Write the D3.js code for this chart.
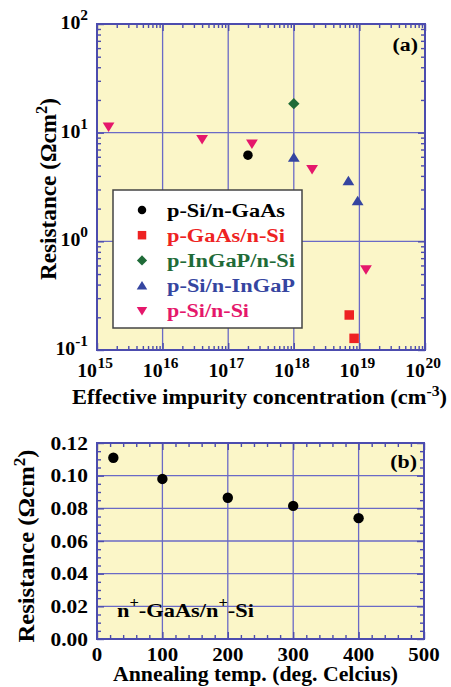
<!DOCTYPE html>
<html>
<head>
<meta charset="utf-8">
<script src="https://cdn.jsdelivr.net/npm/d3@7"></script>
<style>
  body { margin: 0; background: #fff; }
</style>
</head>
<body>
<div id="chart"></div>
<script>
// ---- panel (a) data: resistance vs effective impurity concentration ----
const seriesNames = ["p-Si/n-GaAs", "p-GaAs/n-Si", "p-InGaP/n-Si", "p-Si/n-InGaP", "p-Si/n-Si"];
const seriesShapes = ["circle", "square", "diamond", "up", "down"];
const seriesColors = ["#000000", "#ee2222", "#1f6b38", "#3545a0", "#e5176b"];
const pSiNGaAsX = [2.0e17];
const pSiNGaAsY = [6.2];
const pGaAsNSiX = [7.0e18, 8.3e18];
const pGaAsNSiY = [0.21, 0.128];
const pInGaPNSiX = [1.0e18];
const pInGaPNSiY = [18.5];
const pSiNInGaPX = [1.0e18, 6.8e18, 9.4e18];
const pSiNInGaPY = [5.9, 3.6, 2.35];
const pSiNSiX = [1.5e15, 4.0e16, 2.3e17, 1.9e18, 1.26e19];
const pSiNSiY = [11.3, 8.7, 7.9, 4.6, 0.55];
const aXExponents = [15, 16, 17, 18, 19, 20];
const aYExponents = [-1, 0, 1, 2];

// ---- panel (b) data: resistance vs annealing temperature ----
const annealTemp = [25, 100, 200, 300, 400];
const annealRes = [0.111, 0.098, 0.0865, 0.0815, 0.074];
const bXTicks = [0, 100, 200, 300, 400, 500];
const bYTicks = [0, 0.02, 0.04, 0.06, 0.08, 0.10, 0.12];

const W = 451, H = 687;
const frameBlue = "#4c4cae", gridBlue = "#6a6ac6", plotBg = "#fbf6c8";

const svg = d3.select("#chart").append("svg").attr("width", W).attr("height", H);

function shapePath(type, s) {
  const p = d3.path();
  if (type === "circle") { p.arc(0, 0, s / 2, 0, 2 * Math.PI); }
  else if (type === "square") { p.rect(-s / 2, -s / 2, s, s); }
  else if (type === "diamond") {
    p.moveTo(0, -s * 0.6); p.lineTo(s * 0.6, 0); p.lineTo(0, s * 0.6); p.lineTo(-s * 0.6, 0); p.closePath();
  } else if (type === "up") {
    p.moveTo(0, -s * 0.55); p.lineTo(s * 0.62, s * 0.45); p.lineTo(-s * 0.62, s * 0.45); p.closePath();
  } else {
    p.moveTo(0, s * 0.55); p.lineTo(s * 0.62, -s * 0.45); p.lineTo(-s * 0.62, -s * 0.45); p.closePath();
  }
  return p.toString();
}

// ticks on all four sides, pointing in
function drawTicks(g, xs, ys, xMajor, xMinor, yMajor, yMinor) {
  const [xa, xb] = xs.range();
  const [ya, yb] = ys.range();
  const sides = [
    [d3.axisBottom(xs), `translate(0,${ya})`, true],
    [d3.axisTop(xs), `translate(0,${yb})`, true],
    [d3.axisLeft(ys), `translate(${xa},0)`, false],
    [d3.axisRight(ys), `translate(${xb},0)`, false]
  ];
  sides.forEach(([axis, tr, horiz]) => {
    [[horiz ? xMajor : yMajor, 7], [horiz ? xMinor : yMinor, 4]].forEach(([vals, len]) => {
      g.append("g").attr("transform", tr)
        .call(axis.tickValues(vals).tickSize(-len).tickFormat(""))
        .call(s => s.select(".domain").remove())
        .selectAll("line").attr("stroke", frameBlue).attr("stroke-width", 1.4);
    });
  });
}

function plotBox(g, xs, ys, xGrid, yGrid) {
  const [xa, xb] = xs.range();
  const [ya, yb] = ys.range();
  g.append("rect").attr("x", xa).attr("y", yb).attr("width", xb - xa).attr("height", ya - yb)
    .attr("fill", plotBg);
  g.selectAll(".vgrid").data(xGrid).enter().append("line")
    .attr("x1", d => xs(d)).attr("x2", d => xs(d)).attr("y1", ya).attr("y2", yb)
    .attr("stroke", gridBlue).attr("stroke-width", 1.3);
  g.selectAll(".hgrid").data(yGrid).enter().append("line")
    .attr("y1", d => ys(d)).attr("y2", d => ys(d)).attr("x1", xa).attr("x2", xb)
    .attr("stroke", gridBlue).attr("stroke-width", 1.3);
}

function frame(g, xs, ys) {
  const [xa, xb] = xs.range();
  const [ya, yb] = ys.range();
  g.append("rect").attr("x", xa).attr("y", yb).attr("width", xb - xa).attr("height", ya - yb)
    .attr("fill", "none").attr("stroke", frameBlue).attr("stroke-width", 2);
}

// text with horizontal stretch
function stext(g, x, y, str, size, sx, anchor) {
  return g.append("text").attr("transform", `translate(${x},${y}) scale(${sx},1)`)
    .attr("text-anchor", anchor || "start").attr("font-size", size).text(str);
}

// ================= panel (a) =================
const ga = svg.append("g");
const ax = d3.scaleLog().domain([1e15, 1e20]).range([97, 425]);
const ay = d3.scaleLog().domain([0.1, 100]).range([350, 24]);

const aXMajor = aXExponents.map(e => Math.pow(10, e));
const aYMajor = aYExponents.map(e => Math.pow(10, e));
const aXMinor = [], aYMinor = [];
aXExponents.slice(0, -1).forEach(e => { for (let k = 2; k < 10; k++) aXMinor.push(k * Math.pow(10, e)); });
aYExponents.slice(0, -1).forEach(e => { for (let k = 2; k < 10; k++) aYMinor.push(k * Math.pow(10, e)); });

plotBox(ga, ax, ay, aXMajor.slice(1, -1), aYMajor.slice(1, -1));
drawTicks(ga, ax, ay, aXMajor, aXMinor, aYMajor, aYMinor);
frame(ga, ax, ay);

const seriesX = [pSiNGaAsX, pGaAsNSiX, pInGaPNSiX, pSiNInGaPX, pSiNSiX];
const seriesY = [pSiNGaAsY, pGaAsNSiY, pInGaPNSiY, pSiNInGaPY, pSiNSiY];
seriesNames.forEach((name, i) => {
  const pts = seriesX[i].map((x, j) => ({ x: x, y: seriesY[i][j] }));
  ga.selectAll(".s" + i).data(pts).enter().append("path")
    .attr("transform", d => `translate(${ax(d.x)},${ay(d.y)})`)
    .attr("d", shapePath(seriesShapes[i], 9.5))
    .attr("fill", seriesColors[i]);
});

// legend
const leg = ga.append("g");
leg.append("rect").attr("x", 113).attr("y", 190).attr("width", 189).attr("height", 138)
  .attr("fill", "#fff").attr("stroke", "#444").attr("stroke-width", 1.5);
const legWidths = [118, 118, 128, 128, 82];
seriesNames.forEach((name, i) => {
  leg.append("path").attr("transform", `translate(142,${210 + i * 25.2})`)
    .attr("d", shapePath(seriesShapes[i], 8.5)).attr("fill", seriesColors[i]);
  leg.append("text").attr("x", 167).attr("y", 216.5 + i * 25.2)
    .attr("textLength", legWidths[i]).attr("lengthAdjust", "spacingAndGlyphs")
    .attr("font-size", 18.5).attr("fill", seriesColors[i]).text(name);
});

// tick labels (a)
aXExponents.forEach(e => {
  const x = ax(Math.pow(10, e));
  stext(ga, x, 377, "10", 18, 1.1, "end");
  stext(ga, x + 0.5, 368, String(e), 14, 1.1, "start");
});
aYExponents.forEach(e => {
  const y = ay(Math.pow(10, e));
  const t = ga.append("text").attr("transform", `translate(88,${y + 5}) scale(1.1,1)`)
    .attr("text-anchor", "end").attr("font-size", 18);
  t.append("tspan").text("10");
  t.append("tspan").attr("dy", -9).attr("font-size", 14).text(String(e));
});

stext(ga, 418, 51, "(a)", 19, 1.15, "end");

// axis titles (a)
const axt = ga.append("text").attr("x", 72).attr("y", 404)
  .attr("textLength", 375).attr("lengthAdjust", "spacingAndGlyphs").attr("font-size", 20);
axt.append("tspan").text("Effective impurity concentration (cm");
axt.append("tspan").attr("dy", -8).attr("font-size", 14).text("-3");
axt.append("tspan").attr("dy", 8).text(")");

function yTitle(g, cx, cy, len) {
  const t = g.append("text").attr("transform", `translate(${cx},${cy}) rotate(-90) scale(1,1.12)`)
    .attr("x", -len / 2).attr("textLength", len).attr("lengthAdjust", "spacingAndGlyphs")
    .attr("font-size", 20);
  t.append("tspan").text("Resistance (\u03A9cm");
  t.append("tspan").attr("dy", -8).attr("font-size", 14).text("2");
  t.append("tspan").attr("dy", 8).text(")");
}
yTitle(ga, 56, 189, 182);

// ================= panel (b) =================
const gb = svg.append("g");
const bx = d3.scaleLinear().domain([0, 500]).range([97, 424]);
const by = d3.scaleLinear().domain([0, 0.12]).range([639, 443]);

const bXMinor = d3.range(0, 501, 20).filter(v => v % 100 !== 0);
const bYMinor = d3.range(0, 121, 5).filter(v => v % 20 !== 0).map(v => v / 1000);

plotBox(gb, bx, by, bXTicks.slice(1, -1), bYTicks.slice(1, -1));
drawTicks(gb, bx, by, bXTicks, bXMinor, bYTicks, bYMinor);
frame(gb, bx, by);

gb.selectAll(".pt").data(annealTemp.map((t, i) => ({ t: t, r: annealRes[i] }))).enter()
  .append("circle").attr("cx", d => bx(d.t)).attr("cy", d => by(d.r)).attr("r", 5.2)
  .attr("fill", "#000");

bXTicks.forEach(v => stext(gb, bx(v), 661, String(v), 19, 1.1, "middle"));
bYTicks.forEach(v => stext(gb, 88, by(v) + 6.5, v.toFixed(2), 19.5, 1.1, "end"));

stext(gb, 417, 468, "(b)", 19, 1.15, "end");

const nlab = gb.append("text").attr("x", 117).attr("y", 617)
  .attr("textLength", 137).attr("lengthAdjust", "spacingAndGlyphs").attr("font-size", 19);
nlab.append("tspan").text("n");
nlab.append("tspan").attr("dy", -10).attr("font-size", 14).text("+");
nlab.append("tspan").attr("dy", 10).text("-GaAs/n");
nlab.append("tspan").attr("dy", -10).attr("font-size", 14).text("+");
nlab.append("tspan").attr("dy", 10).text("-Si");

gb.append("text").attr("x", 113).attr("y", 681).attr("textLength", 285)
  .attr("lengthAdjust", "spacingAndGlyphs").attr("font-size", 20)
  .text("Annealing temp. (deg. Celcius)");

yTitle(gb, 34, 546, 193);

// one family name per text element
svg.selectAll("text").attr("font-family", "Liberation Serif").attr("font-weight", "bold");
</script>
</body>
</html>
